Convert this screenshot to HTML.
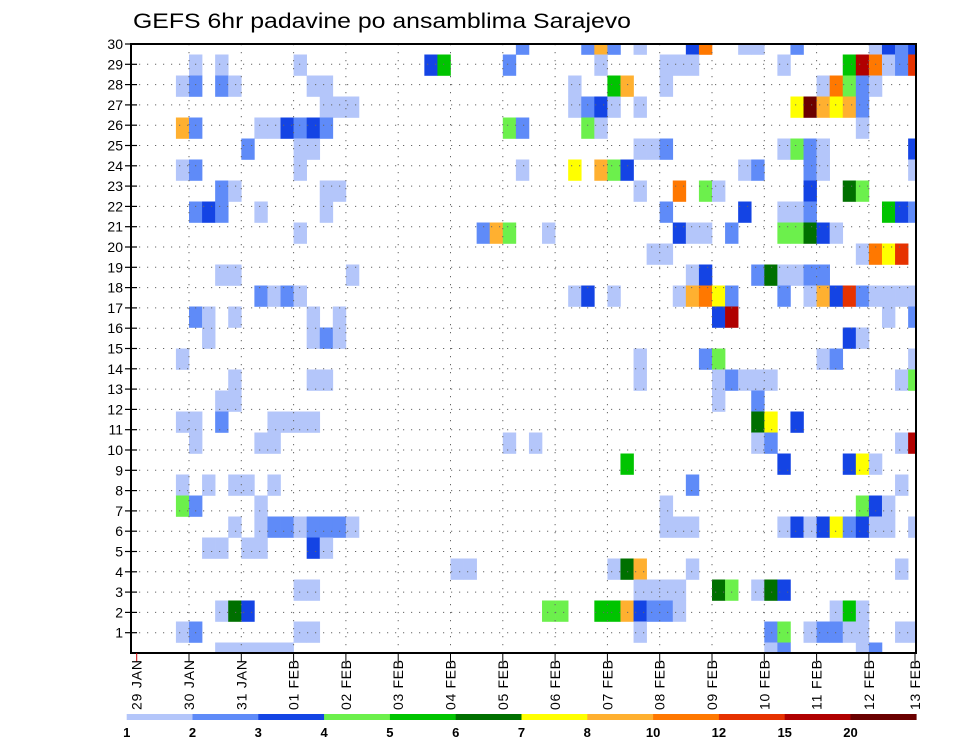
<!DOCTYPE html>
<html><head><meta charset="utf-8"><title>GEFS 6hr padavine po ansamblima Sarajevo</title>
<style>html,body{margin:0;padding:0;background:#fff;}svg{display:block;font-family:"Liberation Sans",sans-serif;}</style>
</head><body>
<svg id="chart" width="960" height="742" viewBox="0 0 960 742" xmlns="http://www.w3.org/2000/svg">
<text x="133" y="28" font-size="21" textLength="498" lengthAdjust="spacingAndGlyphs" fill="#000">GEFS 6hr padavine po ansamblima Sarajevo</text>
</svg>
<script>
// ---- data ----
const dayLabels = ["29 JAN","30 JAN","31 JAN","01 FEB","02 FEB","03 FEB","04 FEB","05 FEB","06 FEB","07 FEB","08 FEB","09 FEB","10 FEB","11 FEB","12 FEB","13 FEB"];
const memberTicks = [1,2,3,4,5,6,7,8,9,10,11,12,13,14,15,16,17,18,19,20,21,22,23,24,25,26,27,28,29,30];
const levels = [1,2,3,4,5,6,7,8,10,12,15,20];
const levelColors = ["#b4c6fa","#5f8bf8","#1444e4","#6cf04c","#00c400","#007000","#ffff00","#ffb030","#ff7800","#e63200","#b00000","#6a0000"];
// code char -> precipitation value (mm / 6hr)
const codeValues = {".":0,"1":1.5,"2":2.5,"3":3.5,"4":4.5,"5":5.5,"6":6.5,"7":7.5,"8":9,"9":11,"a":13.5,"b":17.5,"c":25};
// rows from member 30 (top) to member 1 (bottom); 60 six-hour steps from 29 JAN
const memberRows = [
".......... .......... .........2 ....282.1. ..39..11.. 2.....1323",
"....1.1... ..1....... ..35....2. .....1.... 111......1 ....5b912a",
"...12.21.. ...11..... .......... ...1..58.. 1......... ..19421...",
".......... ....111... .......... ...1231.1. .......... 7c8782....",
"...82....1 13232..... ........42 ....41.... .......... .....1....",
"........2. ..11...... .......... ........11 2........1 421......3",
"...12..... ..1....... .........1 ...7.843.. ......12.. .21......1",
"......21.. ....11.... .......... ........1. .9.41..... .3..64....",
"....232..1 ....1..... .......... .......... 2.....3..1 12.....532",
".......... ..1....... ......284. .1........ .311.2...4 4631......",
".......... .......... .......... .........1 1......... .....197a.",
"......11.. ......1... .......... .......... ..13...261 122.......",
".........2 121....... .......... ...13.1... .18972...2 .183a21111",
"....21.1.. ...1.1.... .......... .......... ....3b.... .......1.2",
".....1.... ...121.... .......... .......... .......... ....31....",
"...1...... .......... .......... ........1. ...24..... ..12.....1",
".......1.. ...11..... .......... ........1. ....12111. ........14",
"......11.. .......... .......... .......... ....1..2.. ..........",
"...11.2... 1111...... .......... .......... .......67. 3.........",
"....1....1 1......... ........1. 1......... .......12. ........1b",
".......... .......... .......... .......5.. .........3 ....371...",
"...1.1.11. 1......... .......... .......... ..2....... ........1.",
"...42....1 .......... .......... .......... 1......... .....431..",
".......1.1 2212221... .......... .......... 111......1 31372311.1",
".....11.11 ...31..... .......... .......... .......... ..........",
".......... .......... ....11.... ......168. ..1....... ........1.",
".......... ..11...... .......... ........11 11..64.163 ..........",
"......163. .......... .......... .44..55832 21........ ...151....",
"...12..... ..11...... .......... ........1. ........24 .12211..11",
"......1111 11........ .......... .......... ........12 .....12..."
];

// ---- scales ----
const NS = "http://www.w3.org/2000/svg";
const svg = document.getElementById("chart");
const plotL = 131, plotR = 916, plotT = 44, plotB = 653;
const x0 = 136.7, dayW = 52.3, stepW = dayW / 4;
function xDay(d){ return x0 + d * dayW; }
function xStep(s){ return x0 + s * stepW; }
function yLabel(r){ return plotB - r * (plotB - plotT) / 30; }
const nMembers = memberRows.length;
const cellH = (plotB - plotT) / (nMembers - 1);
function yMember(m){ return plotB - (m - 1) * cellH; }
function colorFor(v){
  let idx = -1;
  for (let i = 0; i < levels.length; i++) if (v >= levels[i]) idx = i;
  return idx < 0 ? null : levelColors[idx];
}
function mk(tag, attrs, parent){
  const e = document.createElementNS(NS, tag);
  for (const k in attrs) e.setAttribute(k, attrs[k]);
  (parent || svg).appendChild(e);
  return e;
}

// clip
const defs = mk("defs", {});
const cp = mk("clipPath", {id:"plotclip"}, defs);
mk("rect", {x:plotL, y:plotT, width:plotR-plotL, height:plotB-plotT}, cp);

// ---- cells ----
const cellG = mk("g", {"clip-path":"url(#plotclip)"});


memberRows.forEach((row, j) => {
  const member = nMembers - j;
  const chars = row.replace(/ /g, "");
  for (let s = 0; s < chars.length; s++) {
    const v = codeValues[chars[s]];
    const c = colorFor(v);
    if (!c) continue;
    const r = mk("rect", {x: xStep(s).toFixed(2), y: (yMember(member) - cellH/2).toFixed(2), width: (stepW+0.3).toFixed(2), height: (cellH+0.3).toFixed(2), fill: c}, cellG);
    
    
  }
});

// ---- grid ----
const gridG = mk("g", {stroke:"#666", "stroke-width":"1", "stroke-dasharray":"1.2 6.8", fill:"none"});


for (let r = 1; r < 30; r++) {
  const y = yLabel(r);
  mk("line", {x1:plotL, x2:plotR, y1:y, y2:y}, gridG);
}
for (let d = 1; d < dayLabels.length - 1; d++) {
  const x = xDay(d);
  mk("line", {x1:x, x2:x, y1:plotT, y2:plotB}, gridG);
}

// ---- frame ----
const frame = mk("rect", {x:plotL, y:plotT, width:plotR-plotL, height:plotB-plotT, fill:"none", stroke:"#000", "stroke-width":"2"});



// ---- y axis ----
const yG = mk("g", {});


memberTicks.forEach(r => {
  const y = yLabel(r);
  mk("line", {x1:125, x2:137, y1:y, y2:y, stroke:"#000", "stroke-width":"1.2"}, yG);
  const t = mk("text", {x:123, y:y+5, "font-size":"14", "text-anchor":"end", fill:"#000"}, yG);
  t.textContent = r;
  
  
});

// ---- x axis ----
const xG = mk("g", {});


dayLabels.forEach((lab, d) => {
  const x = Math.min(xDay(d), plotR - 1);
  mk("line", {x1:x, x2:x, y1:plotB, y2:662, stroke: d === 0 ? "#c00" : "#000", "stroke-width":"1"}, xG);
  const t = mk("text", {x:0, y:0, "font-size":"14", "text-anchor":"end", fill:"#000", textLength:"50", lengthAdjust:"spacing", transform:"translate(" + (x+5).toFixed(1) + ",660) rotate(-90)"}, xG);
  t.textContent = lab;
  
  
});

// ---- colorbar ----
const cbG = mk("g", {});


const cbX = 126.7, cbW = 65.8, cbY = 714, cbH = 6;
levelColors.forEach((c, i) => {
  const r = mk("rect", {x:(cbX + i*cbW).toFixed(2), y:cbY, width:(cbW+0.3).toFixed(2), height:cbH, fill:c}, cbG);
  
  
});
levels.forEach((lv, i) => {
  const t = mk("text", {x:(cbX + i*cbW).toFixed(2), y:737, "font-size":"13", "font-weight":"bold", "text-anchor":"middle", fill:"#000"}, cbG);
  t.textContent = lv;
  
  
});
</script>
</body></html>
